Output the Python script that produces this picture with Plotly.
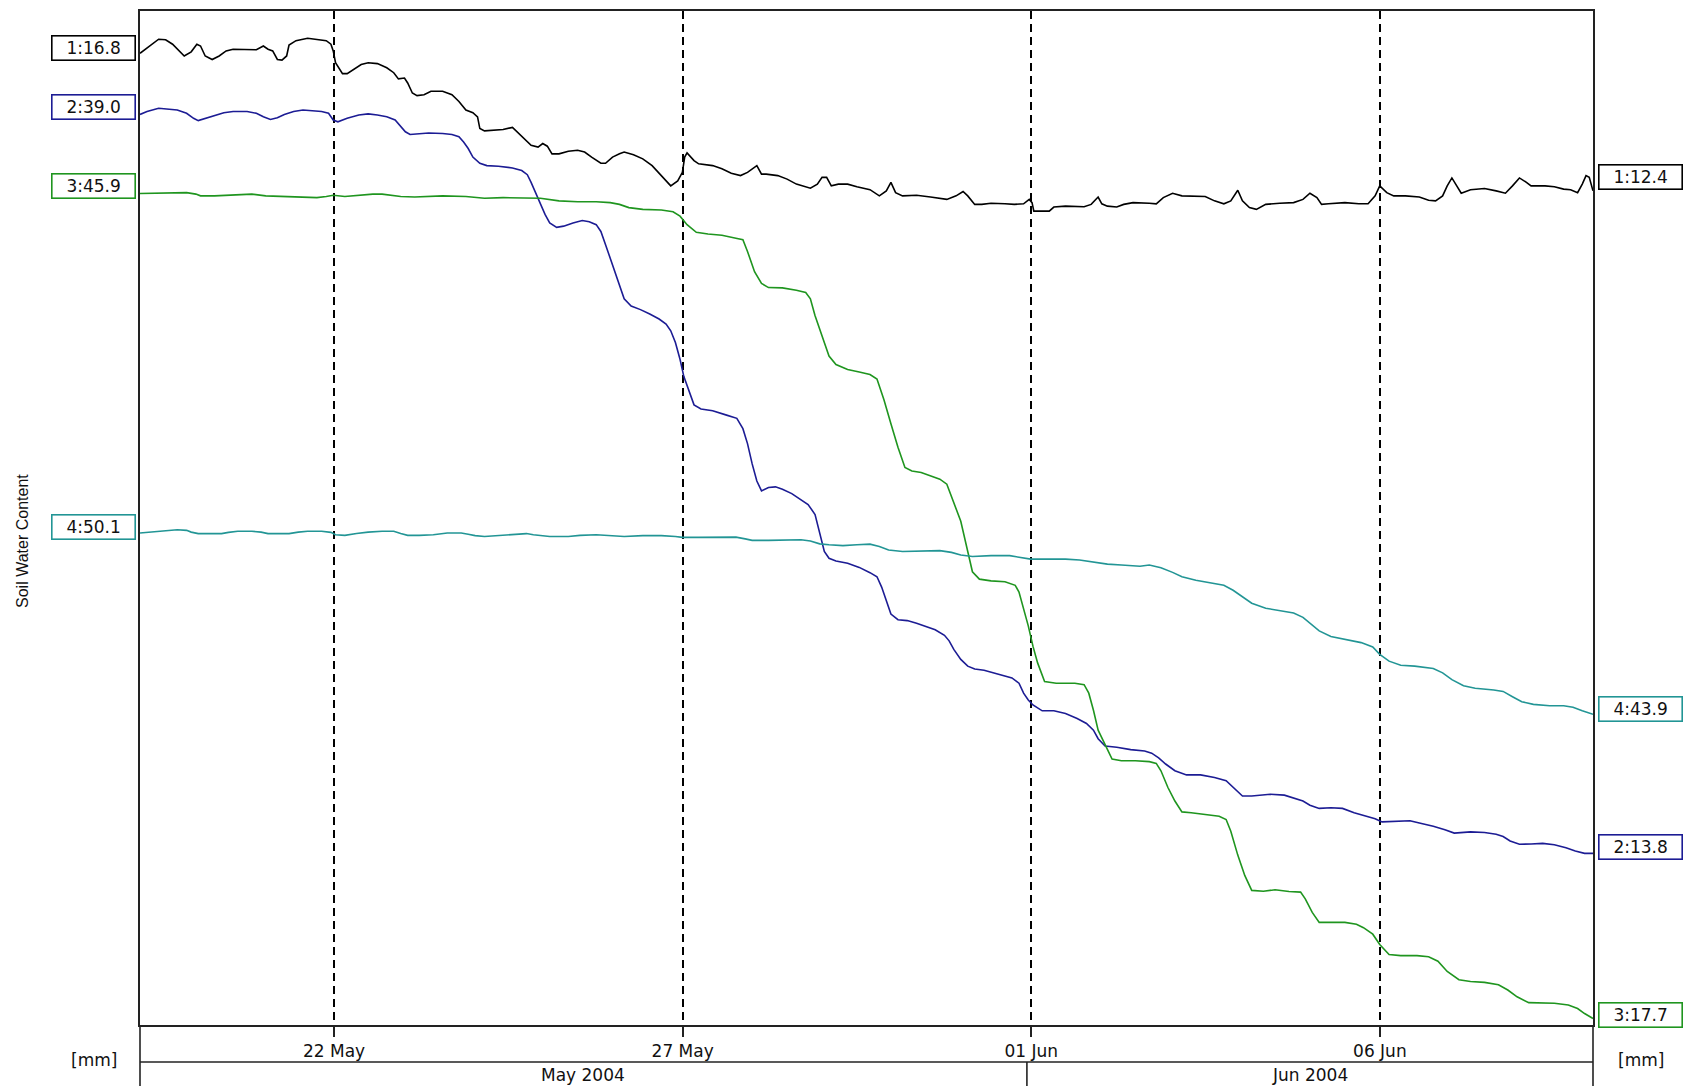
import pandas as pd
import plotly.graph_objects as go

# ---------------- data (days since 2004-05-19 00:00, values in mm) ----------------
BASE = "2004-05-19 00:00"

S1_T = [0.217,0.484,0.584,0.684,0.851,0.951,1.032,1.085,1.152,1.252,
        1.352,1.452,1.552,1.753,1.886,1.986,2.053,2.120,2.187,2.253,
        2.320,2.354,2.454,2.621,2.754,2.888,2.955,2.988,3.021,3.121,
        3.188,3.288,3.389,3.489,3.622,3.756,3.856,3.923,4.010,4.056,
        4.123,4.190,4.290,4.390,4.557,4.691,4.791,4.891,4.991,5.058,
        5.091,5.158,5.292,5.425,5.559,5.625,5.725,5.826,5.926,5.993,
        6.059,6.126,6.226,6.360,6.493,6.594,6.694,6.827,6.894,6.994,
        7.094,7.161,7.295,7.428,7.562,7.695,7.829,7.929,7.996,8.029,
        8.063,8.163,8.229,8.430,8.563,8.697,8.830,8.930,8.997,9.064,
        9.131,9.198,9.364,9.498,9.631,9.832,9.932,9.999,10.065,10.132,
        10.233,10.366,10.499,10.687,
        10.821,10.921,10.987,11.054,11.154,11.355,11.555,11.789,11.922,12.022,
        12.089,12.189,12.290,12.423,12.623,12.757,12.890,12.971,13.011,13.037,
        13.124,13.258,13.324,13.491,13.758,13.859,13.959,14.012,14.092,14.226,
        14.326,14.460,14.693,14.793,14.894,15.027,15.161,15.495,15.628,15.762,
        15.862,15.962,16.029,16.129,16.229,16.363,16.563,16.763,16.897,16.997,
        17.097,17.164,17.264,17.498,17.698,17.831,17.932,17.998,18.099,18.199,
        18.366,18.566,18.699,18.799,18.900,18.966,19.033,19.100,19.167,19.300,
        19.501,19.668,19.801,19.902,20.002,20.102,20.169,20.369,20.503,20.636,
        20.736,20.836,20.903,20.957,21.003,21.057]
S1_V = [16.82,17.30,17.28,17.13,16.73,16.87,17.13,17.07,16.73,16.61,
        16.73,16.90,16.96,16.94,16.94,17.07,16.96,16.90,16.61,16.59,
        16.73,17.10,17.25,17.33,17.30,17.25,17.13,16.90,16.50,16.13,
        16.13,16.27,16.44,16.50,16.47,16.33,16.16,15.95,15.98,15.81,
        15.47,15.38,15.41,15.53,15.53,15.41,15.18,14.89,14.80,14.66,
        14.26,14.18,14.21,14.23,14.30,14.15,13.92,13.69,13.63,13.75,
        13.66,13.40,13.40,13.49,13.52,13.46,13.29,13.08,13.08,13.29,
        13.40,13.46,13.37,13.23,13.00,12.66,12.31,12.48,12.77,13.29,
        13.43,13.17,13.06,13.00,12.89,12.74,12.66,12.77,12.89,13.00,
        12.71,12.71,12.66,12.54,12.37,12.23,12.37,12.60,12.60,12.31,
        12.37,12.37,12.28,12.18,
        11.97,12.14,12.43,12.08,11.97,11.99,11.93,11.85,11.97,12.12,
        11.97,11.68,11.68,11.72,11.70,11.68,11.70,11.85,11.74,11.45,
        11.45,11.45,11.59,11.62,11.60,11.68,11.93,11.70,11.62,11.59,
        11.68,11.74,11.72,11.70,11.91,12.06,11.97,11.95,11.80,11.70,
        11.80,12.16,11.80,11.57,11.51,11.68,11.72,11.74,11.85,12.06,
        11.91,11.68,11.70,11.74,11.70,11.70,11.97,12.31,12.08,11.97,
        11.97,11.93,11.82,11.80,11.97,12.31,12.58,12.31,12.06,12.18,
        12.22,12.14,12.06,12.31,12.58,12.43,12.31,12.31,12.28,12.20,
        12.18,12.08,12.37,12.66,12.60,12.14]

S2_T = [0.217,0.317,0.484,0.618,0.751,0.885,0.985,1.052,1.152,1.285,
        1.419,1.552,1.753,1.886,1.986,2.087,2.187,2.287,2.420,2.554,
        2.687,2.821,2.921,2.988,3.055,3.188,3.355,3.489,3.622,3.756,
        3.876,3.943,4.023,4.090,4.223,4.357,4.557,4.691,4.791,4.858,
        4.924,4.991,5.091,5.191,5.358,5.559,5.692,5.772,5.826,5.892,
        5.959,6.026,6.093,6.193,6.293,6.427,6.560,6.660,6.760,6.827,
        6.894,6.961,7.028,7.094,7.161,7.261,7.395,7.528,7.662,7.762,
        7.829,7.896,7.962,8.016,8.083,8.163,8.263,8.430,8.630,8.777,
        8.864,8.930,8.997,9.064,9.131,9.231,9.331,9.431,9.565,9.699,
        9.799,
        9.899,9.966,10.032,10.099,10.199,10.366,10.533,
        10.687,10.787,10.854,10.921,10.987,11.088,11.221,11.355,11.488,11.622,
        11.755,11.822,11.889,11.989,12.089,12.189,12.323,12.456,12.590,12.723,
        12.824,12.890,12.957,13.024,13.157,13.324,13.491,13.658,13.792,13.892,
        13.959,14.059,14.226,14.426,14.626,14.727,14.827,14.927,15.060,15.227,
        15.428,15.628,15.795,15.895,16.029,16.162,16.429,16.630,16.763,16.897,
        16.997,17.130,17.297,17.464,17.631,17.831,17.932,18.032,18.232,18.432,
        18.566,18.766,18.933,19.067,19.300,19.501,19.668,19.768,19.868,20.002,
        20.169,20.335,20.502,20.669,20.803,20.936,21.057]
S2_V = [38.94,39.04,39.15,39.12,39.09,38.98,38.81,38.73,38.81,38.89,
        39.00,39.04,39.04,38.98,38.86,38.77,38.83,38.94,39.04,39.09,
        39.07,39.04,38.98,38.75,38.69,38.81,38.92,38.96,38.92,38.86,
        38.75,38.58,38.35,38.26,38.29,38.31,38.29,38.26,38.18,38.00,
        37.78,37.49,37.28,37.20,37.18,37.12,37.03,36.89,36.63,36.28,
        35.88,35.54,35.25,35.10,35.14,35.25,35.33,35.29,35.19,34.96,
        34.51,34.05,33.59,33.13,32.67,32.42,32.30,32.15,31.98,31.81,
        31.58,31.18,30.61,30.03,29.57,29.06,28.92,28.86,28.71,28.60,
        28.25,27.74,27.05,26.47,26.13,26.25,26.27,26.19,26.04,25.84,
        25.67,
        25.33,24.64,24.07,23.84,23.75,23.67,23.53,
        23.35,23.21,22.86,22.40,21.94,21.75,21.72,21.63,21.52,21.41,
        21.22,21.03,20.74,20.40,20.17,20.07,20.03,19.94,19.85,19.77,
        19.59,19.25,19.02,18.85,18.65,18.65,18.56,18.39,18.22,17.99,
        17.70,17.45,17.41,17.33,17.28,17.21,17.05,16.84,16.61,16.47,
        16.47,16.38,16.27,16.04,15.75,15.75,15.81,15.78,15.69,15.58,
        15.44,15.33,15.35,15.33,15.18,15.06,14.98,14.87,14.89,14.91,
        14.83,14.72,14.60,14.49,14.53,14.51,14.45,14.37,14.22,14.11,
        14.12,14.14,14.09,13.99,13.88,13.80,13.80]

S3_T = [0.217,0.417,0.618,0.885,1.018,1.085,1.285,1.552,1.820,2.020,
        2.220,2.420,2.621,2.754,2.888,2.988,3.155,3.355,3.556,3.689,
        3.823,3.956,4.156,4.357,4.557,4.891,5.158,5.425,5.692,5.959,
        6.226,6.494,6.760,6.961,7.094,7.228,7.428,7.695,7.862,7.962,
        8.063,8.196,8.363,8.563,8.764,8.864,8.930,9.031,9.131,9.231,
        9.431,9.631,9.765,9.832,9.898,9.999,10.099,10.199,10.366,10.533,
        10.687,10.787,10.887,10.987,11.088,11.188,11.288,11.421,11.555,11.689,
        11.789,
        11.989,12.089,12.156,12.256,12.423,12.623,12.770,12.824,12.890,12.957,
        13.024,13.091,13.191,13.358,13.625,13.758,13.825,13.892,13.959,14.059,
        14.159,14.293,14.493,14.693,14.793,14.860,14.960,15.060,15.161,15.294,
        15.495,15.695,15.795,15.862,15.962,16.062,16.162,16.329,16.496,16.696,
        16.863,16.930,17.030,17.130,17.297,17.498,17.664,17.765,17.898,17.998,
        18.132,18.299,18.533,18.699,18.833,18.966,19.134,19.300,19.501,19.701,
        19.835,19.968,20.135,20.302,20.503,20.703,20.836,20.936,21.057]
S3_V = [45.84,45.85,45.85,45.87,45.82,45.76,45.76,45.79,45.82,45.76,
        45.74,45.74,45.72,45.70,45.74,45.78,45.74,45.79,45.82,45.82,
        45.78,45.74,45.72,45.74,45.76,45.74,45.68,45.70,45.70,45.68,
        45.59,45.56,45.56,45.53,45.47,45.36,45.30,45.28,45.22,45.07,
        44.78,44.52,44.46,44.42,44.32,44.27,43.87,43.18,42.78,42.64,
        42.63,42.55,42.47,42.26,41.69,41.00,40.31,40.02,39.85,39.77,
        39.68,39.53,38.82,38.01,37.21,36.52,36.40,36.35,36.24,36.12,
        35.95,
        34.69,33.66,32.97,32.72,32.66,32.63,32.51,32.28,31.71,31.13,
        30.44,29.87,29.24,29.18,29.18,29.13,28.84,28.26,27.58,27.06,
        26.60,26.54,26.54,26.51,26.45,26.20,25.63,25.17,24.80,24.77,
        24.71,24.65,24.54,24.14,23.33,22.64,22.13,22.10,22.15,22.09,
        22.07,21.84,21.38,21.04,21.04,21.04,20.98,20.86,20.64,20.29,
        19.95,19.91,19.91,19.87,19.72,19.37,19.09,19.03,19.00,18.92,
        18.74,18.51,18.31,18.29,18.29,18.23,18.11,17.94,17.77]

S4_T = [0.217,0.351,0.551,0.751,0.885,0.951,1.052,1.219,1.386,1.486,
        1.619,1.820,1.953,2.053,2.220,2.354,2.487,2.621,2.821,2.955,
        3.021,3.155,3.322,3.489,3.689,3.856,3.956,4.056,4.223,4.424,
        4.624,4.824,4.924,5.024,5.158,5.358,5.559,5.759,5.859,5.959,
        6.093,6.360,6.527,6.761,6.894,6.994,7.161,7.428,7.695,7.896,
        7.996,8.229,8.496,8.764,8.897,8.997,9.231,9.431,9.698,9.832,
        9.966,10.099,10.299,10.500,
        10.687,10.821,10.954,11.154,11.355,11.689,11.855,11.989,12.156,12.423,
        12.690,12.890,12.991,13.224,13.491,13.692,13.892,14.092,14.293,14.560,
        14.693,14.860,15.027,15.161,15.361,15.561,15.762,15.895,16.029,16.162,
        16.363,16.563,16.763,16.897,16.997,17.130,17.297,17.498,17.731,17.898,
        17.998,18.132,18.299,18.499,18.766,18.900,19.033,19.200,19.367,19.634,
        19.768,19.902,20.035,20.202,20.436,20.636,20.770,20.903,21.057]
S4_V = [50.10,50.13,50.18,50.21,50.19,50.13,50.08,50.08,50.08,50.12,
        50.16,50.16,50.13,50.08,50.08,50.08,50.13,50.16,50.16,50.12,
        50.04,50.02,50.08,50.13,50.16,50.16,50.08,50.02,50.02,50.04,
        50.10,50.10,50.06,50.01,49.98,50.02,50.04,50.08,50.04,50.01,
        49.98,49.98,50.02,50.04,50.02,49.98,49.98,50.01,50.01,49.98,
        49.95,49.95,49.96,49.96,49.90,49.85,49.85,49.85,49.87,49.83,
        49.73,49.70,49.67,49.70,
        49.72,49.64,49.52,49.47,49.49,49.50,49.44,49.35,49.30,49.33,
        49.33,49.26,49.21,49.21,49.21,49.18,49.10,49.04,49.01,48.97,
        49.01,48.92,48.76,48.61,48.49,48.41,48.32,48.15,47.92,47.71,
        47.54,47.46,47.38,47.23,47.04,46.77,46.58,46.48,46.37,46.22,
        45.97,45.74,45.60,45.57,45.49,45.34,45.11,44.90,44.82,44.76,
        44.71,44.53,44.36,44.27,44.22,44.22,44.17,44.05,43.93]

SERIES_IDS = ["1", "2", "3", "4"]
START_LABELS = [16.8, 39.0, 45.9, 50.1]
END_LABELS = [12.4, 13.8, 17.7, 43.9]

TICK_DATES = ["2004-05-22", "2004-05-27", "2004-06-01", "2004-06-06"]
TICK_TEXT = ["22 May", "27 May", "01 Jun", "06 Jun"]
MONTH_TEXT = ["May 2004", "Jun 2004"]
MONTH_SPLIT = "2004-05-31 22:30"
X_RANGE = ["2004-05-19 05:12", "2004-06-09 01:22"]

# per-series axis ranges (each trace has its own offset scale, same mm span)
AXIS_TOPS = [18.26, 42.46, 52.05, 67.86]
AXIS_SPAN = 34.5

# ---------------- styling ----------------
COLORS = ["#000000", "#1c1c94", "#1f951f", "#229595"]
FONT = "DejaVu Sans"
LINE_C = "#222222"
TXT_C = "#111111"

W, H = 1690, 1086
ML, MR, MT, MB = 140, 97, 9, 61
PH = H - MT - MB


def to_dates(days):
    return pd.Timestamp(BASE) + pd.to_timedelta(days, unit="D")


series = [(S1_T, S1_V), (S2_T, S2_V), (S3_T, S3_V), (S4_T, S4_V)]
ax_names = ["y", "y2", "y3", "y4"]

fig = go.Figure()
for (t, v), col, ax in zip(series, COLORS, ax_names):
    fig.add_trace(go.Scatter(x=to_dates(t), y=v, mode="lines", yaxis=ax,
                             line=dict(color=col, width=1.6),
                             hoverinfo="skip", showlegend=False))

layout_axes = {}
for i, top in enumerate(AXIS_TOPS):
    key = "yaxis" if i == 0 else f"yaxis{i + 1}"
    rng = [top - AXIS_SPAN, top]
    if i == 0:
        layout_axes[key] = dict(range=rng, showline=True, mirror=True,
                                linecolor=LINE_C, linewidth=1.6,
                                showticklabels=False, ticks="", showgrid=False,
                                zeroline=False, fixedrange=True)
    else:
        layout_axes[key] = dict(range=rng, overlaying="y", visible=False,
                                showgrid=False, zeroline=False)

annotations = []
for sid, s0, s1, col, ax in zip(SERIES_IDS, START_LABELS, END_LABELS, COLORS, ax_names):
    common = dict(yref=ax, xref="paper", showarrow=False, bgcolor="white",
                  bordercolor=col, borderwidth=1.6, borderpad=1, width=80,
                  height=21, align="center", yanchor="middle", yshift=6,
                  font=dict(family=FONT, size=17, color=TXT_C))
    annotations.append(dict(x=0, y=s0, text=f"{sid}:{s0:.1f}",
                            xanchor="right", xshift=-4, **common))
    annotations.append(dict(x=1, y=s1, text=f"{sid}:{s1:.1f}",
                            xanchor="left", xshift=5, **common))

# units and title
annotations.append(dict(xref="paper", yref="paper", x=-46 / 1453, y=-35 / PH,
                        text="[mm]", showarrow=False, xanchor="center", yanchor="middle",
                        font=dict(family=FONT, size=17, color=TXT_C)))
annotations.append(dict(xref="paper", yref="paper", x=1 + 48 / 1453, y=-35 / PH,
                        text="[mm]", showarrow=False, xanchor="center", yanchor="middle",
                        font=dict(family=FONT, size=17, color=TXT_C)))
annotations.append(dict(xref="paper", yref="paper", x=-117 / 1453, y=485 / PH,
                        text="Soil Water Content", textangle=-90, showarrow=False,
                        xanchor="center", yanchor="middle",
                        font=dict(family="Liberation Sans", size=16, color=TXT_C)))

# month row
x0 = pd.Timestamp(X_RANGE[0])
x1 = pd.Timestamp(X_RANGE[1])
xs = pd.Timestamp(MONTH_SPLIT)
month_centers = [x0 + (xs - x0) / 2, xs + (x1 - xs) / 2]
for txt, c in zip(MONTH_TEXT, month_centers):
    annotations.append(dict(xref="x", yref="paper", x=c, y=-50 / PH, text=txt,
                            showarrow=False, xanchor="center", yanchor="middle",
                            font=dict(family=FONT, size=17, color=TXT_C)))

row_y = -37 / PH
bottom_y = -MB / PH
shapes = [
    dict(type="line", xref="paper", yref="paper", x0=0, x1=1, y0=row_y, y1=row_y,
         line=dict(color=LINE_C, width=1.6)),
    dict(type="line", xref="paper", yref="paper", x0=0, x1=0, y0=0, y1=bottom_y,
         line=dict(color=LINE_C, width=1.6)),
    dict(type="line", xref="paper", yref="paper", x0=1, x1=1, y0=0, y1=bottom_y,
         line=dict(color=LINE_C, width=1.6)),
    dict(type="line", xref="x", yref="paper", x0=MONTH_SPLIT, x1=MONTH_SPLIT,
         y0=row_y, y1=bottom_y, line=dict(color=LINE_C, width=1.6)),
]

fig.update_layout(
    width=W, height=H, autosize=False,
    margin=dict(l=ML, r=MR, t=MT, b=MB, pad=0),
    paper_bgcolor="white", plot_bgcolor="white",
    showlegend=False,
    xaxis=dict(type="date", range=X_RANGE, tickvals=TICK_DATES, ticktext=TICK_TEXT,
               ticks="outside", ticklen=10, tickwidth=1.6, tickcolor=LINE_C,
               tickfont=dict(family=FONT, size=17, color=TXT_C),
               showline=True, mirror=True, linecolor=LINE_C, linewidth=1.6,
               showgrid=True, gridcolor="#000000", gridwidth=1.7, griddash="8px,5px",
               zeroline=False, fixedrange=True),
    annotations=annotations,
    shapes=shapes,
    **layout_axes,
)

fig.write_html("out.html", config={"displayModeBar": False},
               post_script="document.body.style.margin='0';document.body.style.overflow='hidden';")
